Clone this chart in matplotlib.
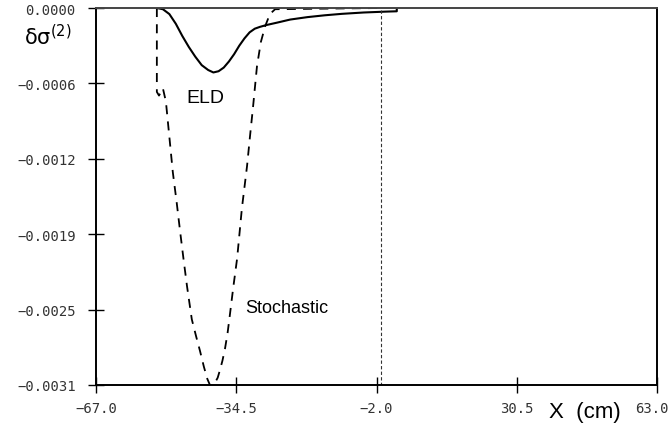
import matplotlib
matplotlib.use("Agg")
import matplotlib.pyplot as plt

# ELD (solid) curve
eld_x = [-52.9, -51.5, -50.0, -48.5, -47.0, -45.5, -44.0, -42.5, -41.0, -39.8,
         -38.6, -37.4, -36.2, -35.0, -33.8, -32.6, -31.4, -30.2, -29.0, -27.5,
         -25.0, -22.0, -18.0, -14.0, -10.0, -5.0, 0.0, 2.7, 2.7]
eld_y = [0.0, -0.00001, -0.00005, -0.00013, -0.00023, -0.00032, -0.00040, -0.00047,
         -0.00051, -0.00053, -0.00052, -0.00049, -0.00044, -0.00038, -0.00031,
         -0.00025, -0.00020, -0.00017, -0.000155, -0.00014, -0.00012, -0.000095,
         -0.000075, -0.00006, -0.000048, -0.000037, -0.00003, -0.000027, 0.0]

# Stochastic (dashed) curve
sto_x = [-52.9, -52.9, -52.4, -51.5, -50.8, -50.0, -49.2, -48.3, -47.5, -46.7,
         -45.9, -44.8, -43.8, -42.9, -42.0, -41.2, -40.6, -40.0, -39.4, -38.8,
         -38.3, -37.7, -37.1, -36.5, -36.0, -35.2, -34.3, -33.2, -32.0, -31.3,
         -30.6, -29.7, -28.8, -27.8, -26.7, -25.5, -1.0]
sto_y = [0.0, -0.00069, -0.00072, -0.00066, -0.00077, -0.00106, -0.00135, -0.00160,
         -0.00184, -0.00207, -0.00229, -0.00256, -0.00270, -0.00282, -0.00295,
         -0.00305, -0.00310, -0.00310, -0.00308, -0.00304, -0.00298, -0.00290,
         -0.00280, -0.00267, -0.00253, -0.00230, -0.00206, -0.00165, -0.00130,
         -0.00105, -0.00081, -0.00048, -0.00028, -0.00015, -0.00005, -0.00001, 0.0]

# thin vertical dashed line
vline_x = [-1.0, -1.0]
vline_y = [-0.00002, -0.0031]

x_ticks = [-67.0, -34.5, -2.0, 30.5, 63.0]
y_ticks = [0.0, -0.00062, -0.00124, -0.00186, -0.00248, -0.0031]

fig = plt.figure(figsize=(6.7, 4.27), dpi=100)
ax = fig.add_axes([96/670, 1-386/427, (657-96)/670, (386-9)/427])

ax.plot(eld_x, eld_y, color="black", lw=1.5, solid_joinstyle="round")
ax.plot(sto_x, sto_y, color="black", lw=1.3, linestyle=(0, (5, 4)))
ax.plot(vline_x, vline_y, color="#333333", lw=0.8, linestyle=(0, (3, 2)))

ax.set_xlim(-67, 63)
ax.set_ylim(-0.0031, 0.0)

xlabels = [f"{v:.1f}".replace("-", "\u2212") for v in x_ticks]
ax.set_xticks(x_ticks)
ax.set_xticklabels(xlabels[:-1] + [""])
ax.set_yticks(y_ticks)
ax.set_yticklabels([f"{v:.4f}".replace("-", "\u2212") for v in y_ticks])

tick_font = dict(fontfamily="DejaVu Sans Mono", fontsize=10, color="#333333")
for lab in ax.get_xticklabels() + ax.get_yticklabels():
    lab.set_fontfamily(tick_font["fontfamily"])
    lab.set_fontsize(tick_font["fontsize"])
    lab.set_color(tick_font["color"])

# last x tick label, shifted to sit just inside the right edge
fig.text(669/670, 1-409/427, xlabels[-1], ha="right", va="center", **tick_font)

ax.tick_params(axis="both", direction="inout", length=11, width=1.0, color="black")
ax.tick_params(axis="y", pad=9)
ax.tick_params(axis="x", pad=6)

for side in ["left", "bottom", "right"]:
    ax.spines[side].set_linewidth(1.4)
    ax.spines[side].set_color("black")
ax.spines["top"].set_linewidth(1.4)
ax.spines["top"].set_color("#444444")

ax.text(-41.7, -0.000732, "ELD", fontfamily="Liberation Sans", fontsize=14,
        ha="center", va="center")
ax.text(-32.5, -0.00246, "Stochastic", fontfamily="Liberation Sans", fontsize=13,
        ha="left", va="center")

fig.text(48/670, 1-37/427, r"$\mathregular{\delta\sigma^{(2)}}$", fontsize=15,
         ha="center", va="center")
fig.text(585/670, 1-413/427, "X  (cm)", fontfamily="Liberation Sans", fontsize=16,
         ha="center", va="center")

fig.savefig("out.png", dpi=100)
